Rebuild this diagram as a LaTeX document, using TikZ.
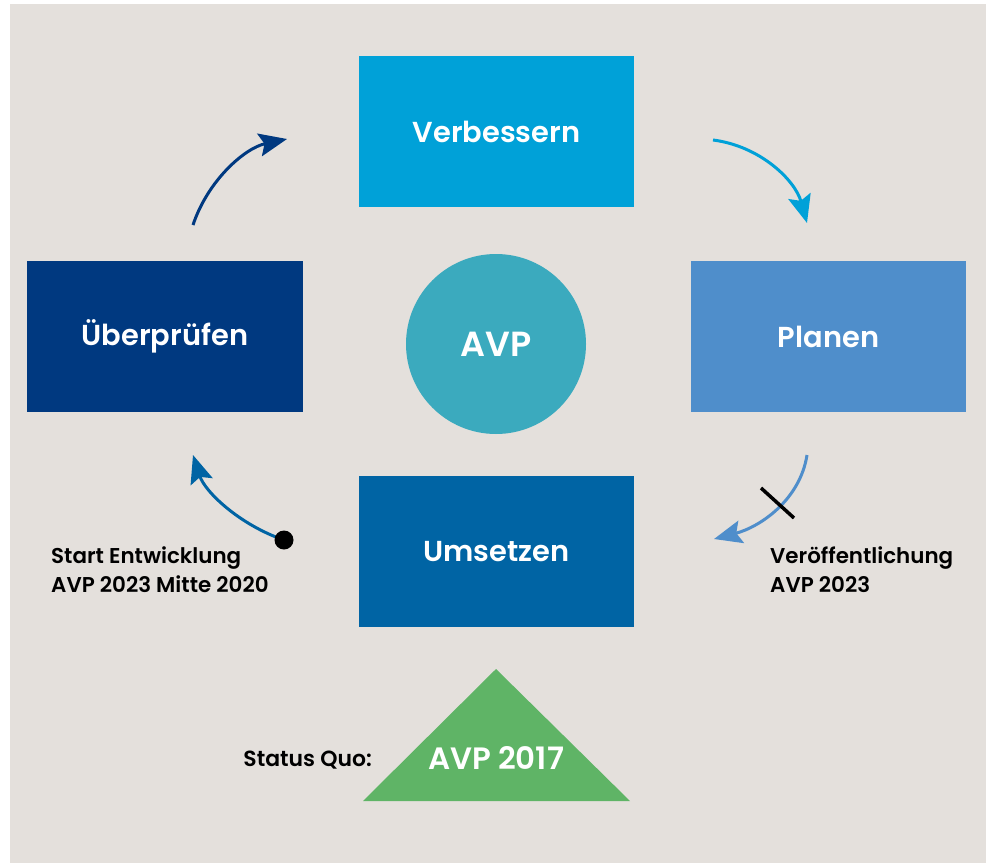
\documentclass[tikz,border=0pt]{standalone}
\usepackage{fontspec}
\setmainfont{Poppins}[BoldFont={Poppins SemiBold}]
\usepackage{tikz}
\usetikzlibrary{arrows.meta}
\usetikzlibrary{shapes.geometric}

\definecolor{bgbeige}{RGB}{228,224,220}
\definecolor{cyanbox}{RGB}{0,161,216}
\definecolor{lightbox}{RGB}{79,142,203}
\definecolor{darkbox}{RGB}{0,57,128}
\definecolor{midbox}{RGB}{0,100,164}
\definecolor{circ}{RGB}{59,170,190}
\definecolor{tri}{RGB}{95,180,102}

\tikzset{
	phase/.style={minimum width=275bp, minimum height=151bp, inner sep=0pt, text=white,
		font=\fontsize{29}{32}\selectfont\bfseries},
	cyc/.style={line width=3bp, -{Stealth[length=28bp,width=23bp,inset=5bp]}},
	note/.style={align=left, anchor=west, inner sep=0pt,
		font=\fontsize{21.5}{29}\selectfont\bfseries}
}

\begin{document}
\begin{tikzpicture}[x=1bp,y=-1bp]
		\useasboundingbox (0,0) rectangle (986,863);
		\fill[bgbeige] (10,4) rectangle (986,863);
		% the four phases
		\node[phase, fill=cyanbox] (verb) at (496.5,131.5) {Verbessern};
		\node[phase, fill=lightbox] (plan) at (828.5,336.5) {Planen};
		\node[phase, fill=darkbox] (pruef) at (165,336.5) {Überprüfen};
		\node[phase, fill=midbox] (ums) at (496.5,551.5) {Umsetzen};
		\node[circle, fill=circ, minimum size=180bp, inner sep=0pt, text=white,
			font=\fontsize{35}{40}\selectfont\bfseries] (avp) at (496,344) {AVP};
		% status quo
		\fill[tri] (496,669) -- (630,801) -- (363,801) -- cycle;
		\node[text=white, font=\fontsize{31}{34}\selectfont\bfseries] (alt) at (496,758) {AVP 2017};
		\node[anchor=east, inner sep=0pt, font=\fontsize{22}{25}\selectfont\bfseries] (sq) at (372,760) {Status Quo:};
		% arrows
		\coordinate (a1) at (193,225);
		\coordinate (b1) at (287,139);
		\coordinate (a2) at (713,140);
		\coordinate (b2) at (807,223);
		\coordinate (a3) at (807,455);
		\coordinate (b3) at (714,539);
		\coordinate (a4) at (284,540);
		\coordinate (b4) at (193,455);
		\draw[cyc, darkbox] (a1) .. controls (208,180) and (245,148) .. (b1);
		\draw[cyc, cyanbox] (a2) .. controls (760,146) and (795,180) .. (b2);
		\draw[cyc, lightbox] (a3) .. controls (800,500) and (760,527) .. (b3);
		\draw[cyc, midbox] (a4) .. controls (240,525) and (205,492) .. (b4);
		\fill (a4) circle (9.5);
		\coordinate (t1) at (761,488);
		\coordinate (t2) at (794,518);
		\draw[line width=3.5bp] (t1) -- (t2);
		% labels
		\node[note] (start) at (51,570) {Start Entwicklung\\AVP 2023 Mitte 2020};
		\node[note] (publ) at (770,570) {Veröffentlichung\\AVP 2023};
	\end{tikzpicture}
\end{document}
